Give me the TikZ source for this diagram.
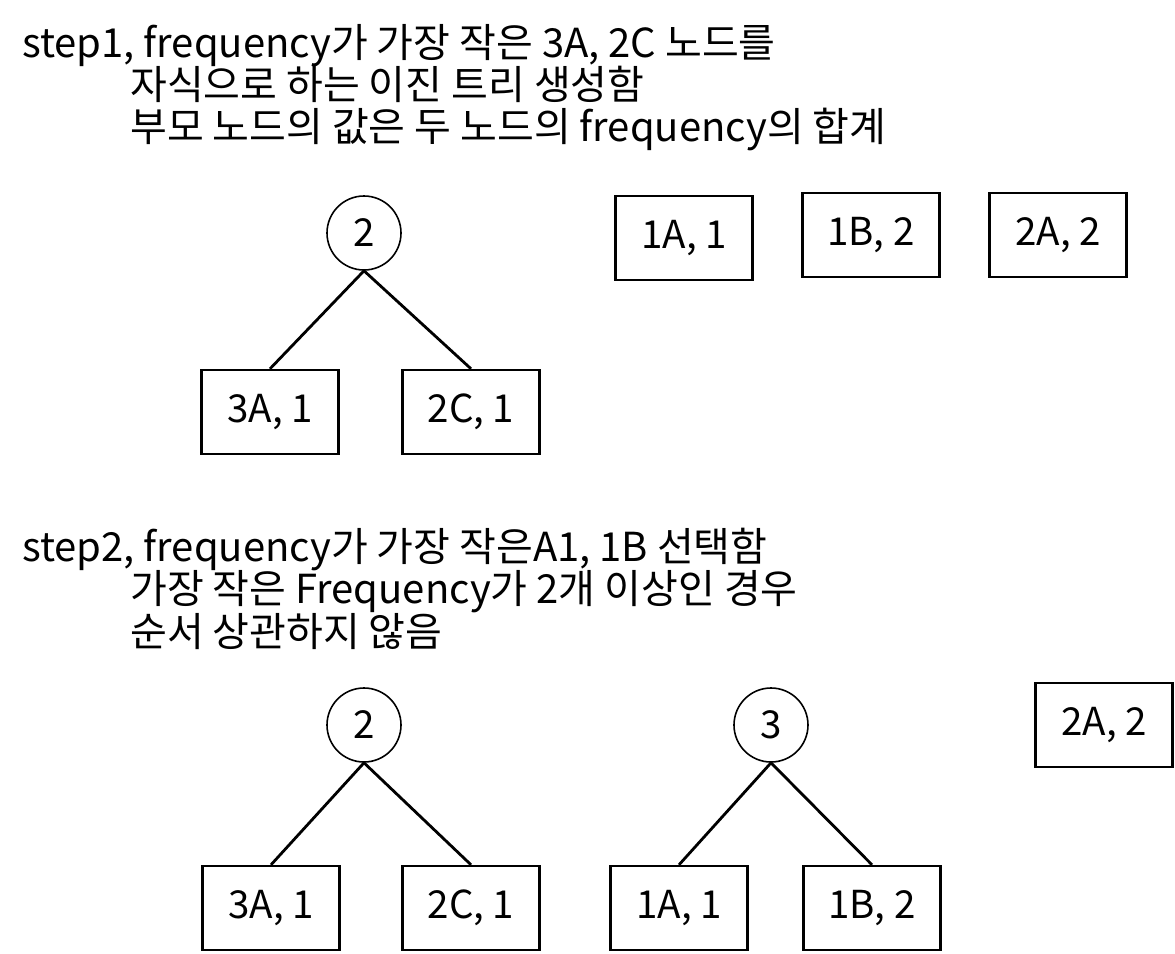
\documentclass[tikz,border=0pt]{standalone}
\usepackage{fontspec}
\setmainfont{Noto Sans CJK KR}
\usetikzlibrary{positioning}

\begin{document}
\begin{tikzpicture}[x=1pt,y=-1pt,
  every node/.style={font=\fontsize{40}{42}\selectfont},
  textline/.style={anchor=base west,inner sep=0pt},
  leafbox/.style={rectangle,draw,line width=2.4pt,minimum width=137pt,
        minimum height=84pt,inner sep=0pt,font=\fontsize{38.5}{40}\selectfont},
  sumnode/.style={circle,draw,line width=1.6pt,minimum size=74pt,
        inner sep=0pt,font=\fontsize{38.5}{40}\selectfont},
  treeline/.style={line width=2.8pt}]
  \useasboundingbox (0,0) rectangle (1175,953);

  % Step 1
  \node[textline] at (22,57) (step1a) {step1, frequency가 가장 작은 3A, 2C 노드를};
  \node[textline] at (130,99) (step1b) {자식으로 하는 이진 트리 생성함};
  \node[textline] at (130,141) (step1c) {부모 노드의 값은 두 노드의 frequency의 합계};
  \node[sumnode] at (364,233) (p1) {2};
  \node[leafbox] at (270,412) (p1l) {3A, 1};
  \node[leafbox] at (471,412) (p1r) {2C, 1};
  \node[leafbox] at (684,238) (r1a) {1A, 1};
  \node[leafbox] at (871,235) (r1b) {1B, 2};
  \node[leafbox] at (1058,235) (r1c) {2A, 2};
  \draw[treeline] (p1.south) -- (p1l.north);
  \draw[treeline] (p1.south) -- (p1r.north);

  % Step 2
  \node[textline] at (22,561) (step2a) {step2, frequency가 가장 작은A1, 1B 선택함};
  \node[textline] at (130,603) (step2b) {가장 작은 Frequency가 2개 이상인 경우};
  \node[textline] at (130,646) (step2c) {순서 상관하지 않음};
  \node[sumnode] at (364,725) (p2) {2};
  \node[leafbox] at (271,908) (p2l) {3A, 1};
  \node[leafbox] at (471,908) (p2r) {2C, 1};
  \node[sumnode] at (771,725) (p3) {3};
  \node[leafbox] at (679,908) (p3l) {1A, 1};
  \node[leafbox] at (872,908) (p3r) {1B, 2};
  \node[leafbox] at (1104,725) (r2c) {2A, 2};
  \draw[treeline] (p2.south) -- (p2l.north);
  \draw[treeline] (p2.south) -- (p2r.north);
  \draw[treeline] (p3.south) -- (p3l.north);
  \draw[treeline] (p3.south) -- (p3r.north);
\end{tikzpicture}
\end{document}
